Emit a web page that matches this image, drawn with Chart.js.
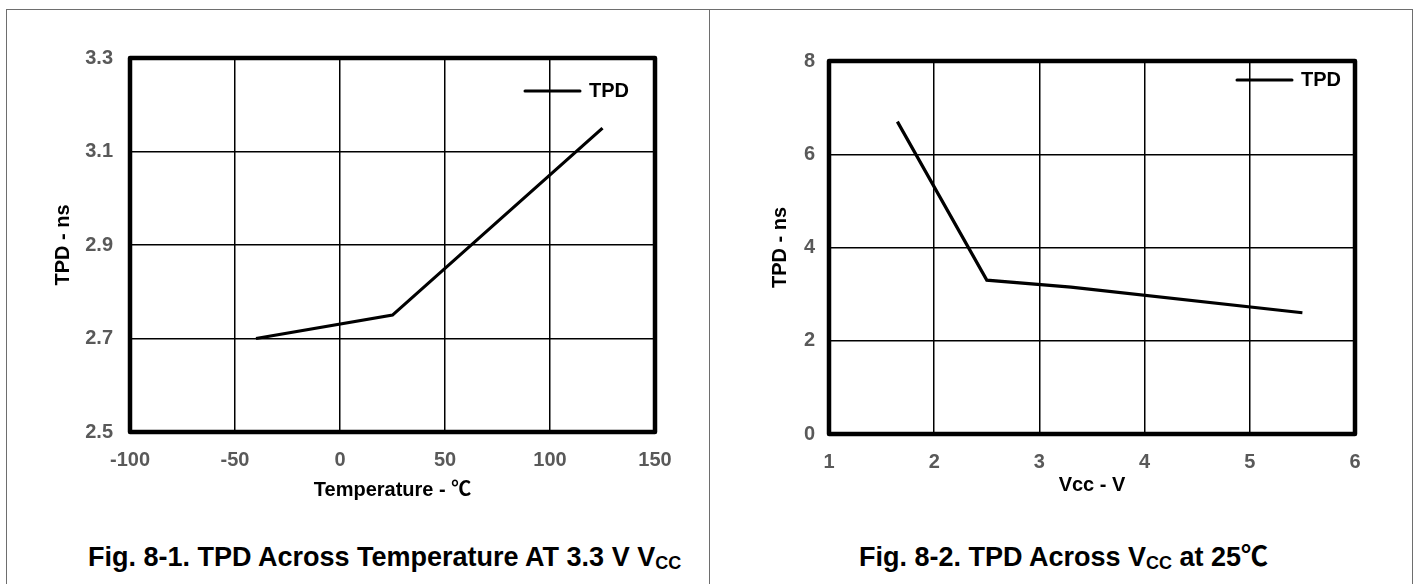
<!DOCTYPE html>
<html><head><meta charset="utf-8">
<script src="https://cdn.jsdelivr.net/npm/chart.js@4.4.0/dist/chart.umd.min.js"></script>
<style>
html,body{margin:0;padding:0;background:#fff;width:1418px;height:584px;overflow:hidden;font-family:"Liberation Sans",Arial,"Noto Sans CJK SC",sans-serif;}
.frame{position:absolute;background:#6e6e6e;}
.cv{position:absolute;top:0;}
.cap{position:absolute;font-weight:bold;font-size:27px;line-height:27px;color:#000;white-space:nowrap;}
.cap sub{font-size:18px;line-height:0;vertical-align:baseline;position:relative;top:3px;}
</style></head><body>
<div class="frame" style="left:6px;top:9px;width:1407px;height:1px"></div>
<div class="frame" style="left:6px;top:9px;width:1px;height:600px"></div>
<div class="frame" style="left:709px;top:9px;width:1px;height:600px"></div>
<div class="frame" style="left:1412px;top:9px;width:1px;height:600px"></div>
<canvas id="c1" class="cv" width="709" height="520" style="left:0px"></canvas>
<canvas id="c2" class="cv" width="709" height="520" style="left:709px"></canvas>
<div class="cap" style="left:88px;top:544px">Fig. 8-1. TPD Across Temperature AT 3.3 V V<sub>CC</sub></div>
<div class="cap" style="left:859px;top:544px">Fig. 8-2. TPD Across V<sub>CC</sub> at 25℃</div>
<script>
// ---- data ----
const tempC = [-40, 25, 125];
const tpdTemp = [2.70, 2.75, 3.15];
const vccV = [1.65, 2.5, 3.3, 5.5];
const tpdVcc = [6.7, 3.3, 3.15, 2.6];
const tempTicks = [-100, -50, 0, 50, 100, 150];
const tempTpdTicks = [2.5, 2.7, 2.9, 3.1, 3.3];
const vccTicks = [1, 2, 3, 4, 5, 6];
const vccTpdTicks = [0, 2, 4, 6, 8];
const seriesLabel = 'TPD';

const FONT = '"Liberation Sans", Arial, "Noto Sans CJK SC", sans-serif';

const frameAndLegend = {
  id: 'frameAndLegend',
  afterDraw(chart, args, opts) {
    const {ctx, chartArea: a} = chart;
    ctx.save();
    ctx.strokeStyle = '#000';
    ctx.lineWidth = 4.5;
    ctx.lineJoin = 'round';
    ctx.strokeRect(a.left, a.top, a.right - a.left, a.bottom - a.top);
    // legend
    const ds = chart.data.datasets[0];
    ctx.font = 'bold 20px ' + FONT;
    ctx.fillStyle = '#000';
    ctx.textAlign = 'right';
    ctx.textBaseline = 'middle';
    const tx = a.right - opts.right;
    const ty = a.top + opts.top;
    ctx.fillText(ds.label, tx, ty);
    const w = ctx.measureText(ds.label).width;
    ctx.beginPath();
    ctx.lineWidth = 3;
    ctx.lineCap = 'round';
    ctx.strokeStyle = ds.borderColor;
    ctx.moveTo(tx - w - 9 - 55, ty);
    ctx.lineTo(tx - w - 9, ty);
    ctx.stroke();
    ctx.restore();
  }
};

function makeChart(id, xs, ys, xTicks, yTicks, o) {
  const pts = xs.map((x, i) => ({x, y: ys[i]}));
  return new Chart(document.getElementById(id), {
    type: 'line',
    data: {datasets: [{label: seriesLabel, data: pts, borderColor: '#000', borderWidth: 3.2,
      pointRadius: 0, tension: 0, fill: false, borderJoinStyle: 'miter'}]},
    options: {
      responsive: false, animation: false, devicePixelRatio: 1,
      layout: {padding: {left: 0, top: o.top, right: o.right, bottom: 0}},
      plugins: {legend: {display: false}, tooltip: {enabled: false},
        frameAndLegend: o.legend},
      scales: {
        x: {type: 'linear', min: xTicks[0], max: xTicks[xTicks.length - 1],
          afterBuildTicks: s => { s.ticks = xTicks.map(v => ({value: v})); },
          afterFit: s => { s.height = o.xh; },
          grid: {color: '#000', lineWidth: 1.5, drawTicks: false},
          border: {display: false},
          ticks: {color: '#595959', font: {family: FONT, size: 20, weight: 'bold'}, padding: o.xtp,
            maxRotation: 0, autoSkip: false, callback: v => String(v)},
          title: {display: true, text: o.xTitle, color: '#000',
            font: {family: FONT, size: 20, weight: 'bold'}, padding: {top: 0, bottom: o.xtb}}
        },
        y: {type: 'linear', min: yTicks[0], max: yTicks[yTicks.length - 1],
          afterBuildTicks: s => { s.ticks = yTicks.map(v => ({value: v})); },
          afterFit: s => { s.width = o.yw; },
          grid: {color: '#000', lineWidth: 1.5, drawTicks: false},
          border: {display: false},
          ticks: {color: '#595959', font: {family: FONT, size: 20, weight: 'bold'}, padding: o.ytp,
            autoSkip: false, callback: v => o.fmt(v)},
          title: {display: true, text: 'TPD - ns', color: '#000',
            font: {family: FONT, size: 20, weight: 'bold'}, padding: {top: o.ytt, bottom: 0}}
        }
      }
    },
    plugins: [frameAndLegend]
  });
}

makeChart('c1', tempC, tpdTemp, tempTicks, tempTpdTicks, {
  top: 58, right: 54, xh: 88, yw: 130, xtp: 16, xtb: 18, ytp: 17, ytt: 51,
  xTitle: 'Temperature - ℃', fmt: v => v.toFixed(1), legend: {right: 26, top: 33}
});
makeChart('c2', vccV, tpdVcc, vccTicks, vccTpdTicks, {
  top: 61, right: 63, xh: 86, yw: 120, xtp: 16, xtb: 23, ytp: 14, ytt: 59,
  xTitle: 'Vcc - V', fmt: v => String(v), legend: {right: 14, top: 19}
});
</script>
</body></html>
